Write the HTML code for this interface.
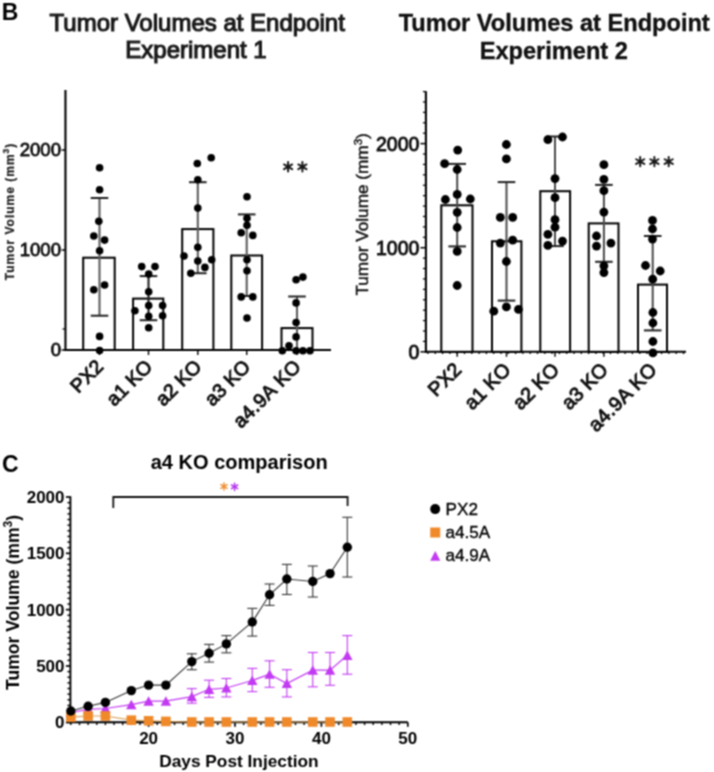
<!DOCTYPE html>
<html><head><meta charset="utf-8"><style>
html,body{margin:0;padding:0;background:#fff;}
svg{display:block;font-family:"Liberation Sans", sans-serif;}
#w{width:714px;height:772px;will-change:transform;}
</style></head><body><div id="w">
<svg width="714" height="772" viewBox="0 0 714 772">
<defs><filter id="soft" x="0" y="0" width="714" height="772" filterUnits="userSpaceOnUse" color-interpolation-filters="sRGB"><feConvolveMatrix order="3" kernelMatrix="1 2 1 2 4 2 1 2 1" divisor="16" edgeMode="duplicate"/></filter></defs>
<g filter="url(#soft)">
<rect width="714" height="772" fill="#fff"/>
<text x="1.7" y="19.9" font-size="23" font-weight="bold" text-anchor="start" fill="#000" >B</text>
<text x="197.2" y="30.9" font-size="24.0" font-weight="normal" text-anchor="middle" fill="#1a1a1a" stroke="#1a1a1a" stroke-width="1.15">Tumor Volumes at Endpoint</text>
<text x="196.0" y="58.0" font-size="24.0" font-weight="normal" text-anchor="middle" fill="#1a1a1a" stroke="#1a1a1a" stroke-width="1.15">Experiment 1</text>
<text x="554.2" y="31.3" font-size="23.6" font-weight="bold" text-anchor="middle" fill="#111" stroke="#111" stroke-width="0.35">Tumor Volumes at Endpoint</text>
<text x="553.8" y="58.9" font-size="23.6" font-weight="bold" text-anchor="middle" fill="#111" stroke="#111" stroke-width="0.35">Experiment 2</text>
<line x1="65.45" y1="90" x2="65.45" y2="351.0" stroke="#000" stroke-width="2.1"/>
<line x1="64.45" y1="350.0" x2="331" y2="350.0" stroke="#000" stroke-width="2.0"/>
<line x1="61.650000000000006" y1="350.0" x2="65.45" y2="350.0" stroke="#000" stroke-width="1.5"/>
<line x1="61.650000000000006" y1="250.0" x2="65.45" y2="250.0" stroke="#000" stroke-width="1.5"/>
<line x1="61.650000000000006" y1="150.0" x2="65.45" y2="150.0" stroke="#000" stroke-width="1.5"/>
<line x1="62.45" y1="329" x2="65.45" y2="329" stroke="#000" stroke-width="1.2"/>
<text x="61.0" y="355.9" font-size="18.6" font-weight="normal" text-anchor="end" fill="#111" stroke="#111" stroke-width="0.85">0</text>
<text x="61.0" y="255.9" font-size="18.6" font-weight="normal" text-anchor="end" fill="#111" stroke="#111" stroke-width="0.85">1000</text>
<text x="61.0" y="155.9" font-size="18.6" font-weight="normal" text-anchor="end" fill="#111" stroke="#111" stroke-width="0.85">2000</text>
<text transform="translate(14.2,280.3) rotate(-90)" font-size="12" font-weight="bold" letter-spacing="1.0" fill="#222" stroke="#222" stroke-width="0.25">Tumor Volume (mm<tspan dy="-5.5" font-size="8.5">3</tspan><tspan dy="5.5">)</tspan></text>
<rect x="83.2" y="257.7" width="31.5" height="92.30000000000001" fill="#fff" stroke="#000" stroke-width="2.0"/>
<rect x="133.1" y="298.6" width="30.200000000000017" height="51.39999999999998" fill="#fff" stroke="#000" stroke-width="2.0"/>
<rect x="182.2" y="229.1" width="31.200000000000017" height="120.9" fill="#fff" stroke="#000" stroke-width="2.0"/>
<rect x="231.3" y="255.5" width="30.80000000000001" height="94.5" fill="#fff" stroke="#000" stroke-width="2.0"/>
<rect x="281.5" y="328.1" width="31.0" height="21.899999999999977" fill="#fff" stroke="#000" stroke-width="2.0"/>
<line x1="99.5" y1="198" x2="99.5" y2="315.7" stroke="#5e5e5e" stroke-width="2.1"/>
<line x1="90.7" y1="198" x2="108.3" y2="198" stroke="#222" stroke-width="2.0"/>
<line x1="90.7" y1="315.7" x2="108.3" y2="315.7" stroke="#222" stroke-width="2.0"/>
<circle cx="99.6" cy="167.7" r="3.8" fill="#000"/>
<circle cx="99.6" cy="189.7" r="3.8" fill="#000"/>
<circle cx="98.8" cy="221.2" r="3.8" fill="#000"/>
<circle cx="93.8" cy="236" r="3.8" fill="#000"/>
<circle cx="104.6" cy="240.1" r="3.8" fill="#000"/>
<circle cx="99.6" cy="250.7" r="3.8" fill="#000"/>
<circle cx="93.8" cy="289.7" r="3.8" fill="#000"/>
<circle cx="104.6" cy="285" r="3.8" fill="#000"/>
<circle cx="99.6" cy="336.4" r="3.8" fill="#000"/>
<circle cx="99.6" cy="350.5" r="3.8" fill="#000"/>
<line x1="148.5" y1="276.1" x2="148.5" y2="320.2" stroke="#222" stroke-width="2.1"/>
<line x1="139.7" y1="276.1" x2="157.3" y2="276.1" stroke="#222" stroke-width="2.0"/>
<line x1="139.7" y1="320.2" x2="157.3" y2="320.2" stroke="#222" stroke-width="2.0"/>
<circle cx="141.7" cy="266.6" r="3.8" fill="#000"/>
<circle cx="155" cy="266.6" r="3.8" fill="#000"/>
<circle cx="148.7" cy="274.1" r="3.8" fill="#000"/>
<circle cx="148.7" cy="291.8" r="3.8" fill="#000"/>
<circle cx="134.9" cy="310.7" r="3.8" fill="#000"/>
<circle cx="148.7" cy="305.6" r="3.8" fill="#000"/>
<circle cx="162.6" cy="305.6" r="3.8" fill="#000"/>
<circle cx="148.7" cy="316.2" r="3.8" fill="#000"/>
<circle cx="162.6" cy="315.7" r="3.8" fill="#000"/>
<circle cx="148.7" cy="327.8" r="3.8" fill="#000"/>
<line x1="197.8" y1="182.2" x2="197.8" y2="273.2" stroke="#5e5e5e" stroke-width="2.1"/>
<line x1="189.0" y1="182.2" x2="206.60000000000002" y2="182.2" stroke="#222" stroke-width="2.0"/>
<line x1="189.0" y1="273.2" x2="206.60000000000002" y2="273.2" stroke="#222" stroke-width="2.0"/>
<circle cx="197.3" cy="163.5" r="3.8" fill="#000"/>
<circle cx="211.2" cy="157.7" r="3.8" fill="#000"/>
<circle cx="197.8" cy="179.7" r="3.8" fill="#000"/>
<circle cx="197.8" cy="208.1" r="3.8" fill="#000"/>
<circle cx="197.8" cy="247.2" r="3.8" fill="#000"/>
<circle cx="184" cy="256" r="3.8" fill="#000"/>
<circle cx="211.7" cy="259.8" r="3.8" fill="#000"/>
<circle cx="197.8" cy="261" r="3.8" fill="#000"/>
<circle cx="204.9" cy="267.4" r="3.8" fill="#000"/>
<circle cx="190.8" cy="273.2" r="3.8" fill="#000"/>
<line x1="246.7" y1="214.4" x2="246.7" y2="296.0" stroke="#5e5e5e" stroke-width="2.1"/>
<line x1="237.89999999999998" y1="214.4" x2="255.5" y2="214.4" stroke="#222" stroke-width="2.0"/>
<line x1="237.89999999999998" y1="296.0" x2="255.5" y2="296.0" stroke="#222" stroke-width="2.0"/>
<circle cx="247" cy="196.8" r="3.8" fill="#000"/>
<circle cx="247" cy="218.2" r="3.8" fill="#000"/>
<circle cx="247" cy="225.3" r="3.8" fill="#000"/>
<circle cx="241.2" cy="232.8" r="3.8" fill="#000"/>
<circle cx="252.8" cy="235.4" r="3.8" fill="#000"/>
<circle cx="247" cy="259.8" r="3.8" fill="#000"/>
<circle cx="247" cy="270.7" r="3.8" fill="#000"/>
<circle cx="241.2" cy="296.9" r="3.8" fill="#000"/>
<circle cx="252.8" cy="296.9" r="3.8" fill="#000"/>
<circle cx="247" cy="318" r="3.8" fill="#000"/>
<line x1="297" y1="296.5" x2="297" y2="350.0" stroke="#5e5e5e" stroke-width="2.1"/>
<line x1="288.2" y1="296.5" x2="305.8" y2="296.5" stroke="#222" stroke-width="2.0"/>
<circle cx="296.1" cy="279.7" r="3.8" fill="#000"/>
<circle cx="302.9" cy="277.1" r="3.8" fill="#000"/>
<circle cx="296.1" cy="302.9" r="3.8" fill="#000"/>
<circle cx="296.1" cy="322.5" r="3.8" fill="#000"/>
<circle cx="296.1" cy="336.9" r="3.8" fill="#000"/>
<circle cx="289" cy="345.7" r="3.8" fill="#000"/>
<circle cx="282.3" cy="350.7" r="3.8" fill="#000"/>
<circle cx="296.1" cy="350.7" r="3.8" fill="#000"/>
<circle cx="302.9" cy="350.7" r="3.8" fill="#000"/>
<circle cx="310" cy="350.7" r="3.8" fill="#000"/>
<line x1="99.5" y1="350.0" x2="99.5" y2="355.0" stroke="#000" stroke-width="1.4"/>
<line x1="148.5" y1="350.0" x2="148.5" y2="355.0" stroke="#000" stroke-width="1.4"/>
<line x1="197.8" y1="350.0" x2="197.8" y2="355.0" stroke="#000" stroke-width="1.4"/>
<line x1="246.7" y1="350.0" x2="246.7" y2="355.0" stroke="#000" stroke-width="1.4"/>
<line x1="297" y1="350.0" x2="297" y2="355.0" stroke="#000" stroke-width="1.4"/>
<text transform="translate(104.40,367.90) rotate(-45)" font-size="19.5" text-anchor="end" letter-spacing="0" fill="#111" stroke="#111" stroke-width="0.95">PX2</text>
<text transform="translate(153.40,367.90) rotate(-45)" font-size="19.5" text-anchor="end" letter-spacing="0" fill="#111" stroke="#111" stroke-width="0.95">a1 KO</text>
<text transform="translate(202.70,367.90) rotate(-45)" font-size="19.5" text-anchor="end" letter-spacing="0" fill="#111" stroke="#111" stroke-width="0.95">a2 KO</text>
<text transform="translate(251.60,367.90) rotate(-45)" font-size="19.5" text-anchor="end" letter-spacing="0" fill="#111" stroke="#111" stroke-width="0.95">a3 KO</text>
<text transform="translate(302.18,367.62) rotate(-45)" font-size="19.5" text-anchor="end" letter-spacing="0.4" fill="#111" stroke="#111" stroke-width="0.95">a4.9A KO</text>
<circle cx="288.1" cy="166.8" r="2.2" fill="#1a1a1a"/>
<line x1="288.10" y1="162.10" x2="288.10" y2="171.50" stroke="#1a1a1a" stroke-width="2.0" stroke-linecap="round"/>
<line x1="284.03" y1="164.45" x2="292.17" y2="169.15" stroke="#1a1a1a" stroke-width="2.0" stroke-linecap="round"/>
<line x1="284.03" y1="169.15" x2="292.17" y2="164.45" stroke="#1a1a1a" stroke-width="2.0" stroke-linecap="round"/>
<circle cx="302.4" cy="166.8" r="2.2" fill="#1a1a1a"/>
<line x1="302.40" y1="162.10" x2="302.40" y2="171.50" stroke="#1a1a1a" stroke-width="2.0" stroke-linecap="round"/>
<line x1="298.33" y1="164.45" x2="306.47" y2="169.15" stroke="#1a1a1a" stroke-width="2.0" stroke-linecap="round"/>
<line x1="298.33" y1="169.15" x2="306.47" y2="164.45" stroke="#1a1a1a" stroke-width="2.0" stroke-linecap="round"/>
<line x1="425.9" y1="91.2" x2="425.9" y2="352.8" stroke="#000" stroke-width="2.1"/>
<line x1="424.9" y1="351.8" x2="686" y2="351.8" stroke="#000" stroke-width="2.0"/>
<line x1="420.4" y1="351.8" x2="425.9" y2="351.8" stroke="#000" stroke-width="1.5"/>
<line x1="422.9" y1="341.39" x2="425.9" y2="341.39" stroke="#000" stroke-width="1.2"/>
<line x1="422.9" y1="330.98" x2="425.9" y2="330.98" stroke="#000" stroke-width="1.2"/>
<line x1="422.9" y1="320.57" x2="425.9" y2="320.57" stroke="#000" stroke-width="1.2"/>
<line x1="422.9" y1="310.16" x2="425.9" y2="310.16" stroke="#000" stroke-width="1.2"/>
<line x1="422.9" y1="299.75" x2="425.9" y2="299.75" stroke="#000" stroke-width="1.2"/>
<line x1="422.9" y1="289.34000000000003" x2="425.9" y2="289.34000000000003" stroke="#000" stroke-width="1.2"/>
<line x1="422.9" y1="278.93" x2="425.9" y2="278.93" stroke="#000" stroke-width="1.2"/>
<line x1="422.9" y1="268.52" x2="425.9" y2="268.52" stroke="#000" stroke-width="1.2"/>
<line x1="422.9" y1="258.11" x2="425.9" y2="258.11" stroke="#000" stroke-width="1.2"/>
<line x1="420.4" y1="247.70000000000002" x2="425.9" y2="247.70000000000002" stroke="#000" stroke-width="1.5"/>
<line x1="422.9" y1="237.29000000000002" x2="425.9" y2="237.29000000000002" stroke="#000" stroke-width="1.2"/>
<line x1="422.9" y1="226.88" x2="425.9" y2="226.88" stroke="#000" stroke-width="1.2"/>
<line x1="422.9" y1="216.47000000000003" x2="425.9" y2="216.47000000000003" stroke="#000" stroke-width="1.2"/>
<line x1="422.9" y1="206.06" x2="425.9" y2="206.06" stroke="#000" stroke-width="1.2"/>
<line x1="422.9" y1="195.65" x2="425.9" y2="195.65" stroke="#000" stroke-width="1.2"/>
<line x1="422.9" y1="185.24" x2="425.9" y2="185.24" stroke="#000" stroke-width="1.2"/>
<line x1="422.9" y1="174.83" x2="425.9" y2="174.83" stroke="#000" stroke-width="1.2"/>
<line x1="422.9" y1="164.42000000000002" x2="425.9" y2="164.42000000000002" stroke="#000" stroke-width="1.2"/>
<line x1="422.9" y1="154.01000000000002" x2="425.9" y2="154.01000000000002" stroke="#000" stroke-width="1.2"/>
<line x1="420.4" y1="143.60000000000002" x2="425.9" y2="143.60000000000002" stroke="#000" stroke-width="1.5"/>
<line x1="422.9" y1="133.19000000000003" x2="425.9" y2="133.19000000000003" stroke="#000" stroke-width="1.2"/>
<line x1="422.9" y1="122.78000000000003" x2="425.9" y2="122.78000000000003" stroke="#000" stroke-width="1.2"/>
<line x1="422.9" y1="112.37" x2="425.9" y2="112.37" stroke="#000" stroke-width="1.2"/>
<line x1="422.9" y1="101.96000000000001" x2="425.9" y2="101.96000000000001" stroke="#000" stroke-width="1.2"/>
<line x1="422.9" y1="91.55000000000001" x2="425.9" y2="91.55000000000001" stroke="#000" stroke-width="1.2"/>
<text x="419.4" y="358.8" font-size="19.5" font-weight="normal" text-anchor="end" fill="#111" stroke="#111" stroke-width="0.9">0</text>
<text x="419.4" y="254.70000000000002" font-size="19.5" font-weight="normal" text-anchor="end" fill="#111" stroke="#111" stroke-width="0.9">1000</text>
<text x="419.4" y="150.60000000000002" font-size="19.5" font-weight="normal" text-anchor="end" fill="#111" stroke="#111" stroke-width="0.9">2000</text>
<text transform="translate(368.4,295.6) rotate(-90)" font-size="17.2" fill="#111" stroke="#111" stroke-width="0.45">Tumor Volume (mm<tspan dy="-6.5" font-size="11.5">3</tspan><tspan dy="6.5">)</tspan></text>
<rect x="441.3" y="205.3" width="31.19999999999999" height="146.5" fill="#fff" stroke="#000" stroke-width="2.0"/>
<rect x="492" y="241.3" width="29.399999999999977" height="110.5" fill="#fff" stroke="#000" stroke-width="2.0"/>
<rect x="540.3" y="191.2" width="29.800000000000068" height="160.60000000000002" fill="#fff" stroke="#000" stroke-width="2.0"/>
<rect x="588.7" y="223.4" width="29.799999999999955" height="128.4" fill="#fff" stroke="#000" stroke-width="2.0"/>
<rect x="638" y="284.6" width="29" height="67.19999999999999" fill="#fff" stroke="#000" stroke-width="2.0"/>
<line x1="457.2" y1="163.9" x2="457.2" y2="246.4" stroke="#4a4a4a" stroke-width="2.0"/>
<line x1="448.4" y1="163.9" x2="466.0" y2="163.9" stroke="#222" stroke-width="2.0"/>
<line x1="448.4" y1="246.4" x2="466.0" y2="246.4" stroke="#222" stroke-width="2.0"/>
<circle cx="457.7" cy="150.1" r="4.4" fill="#000"/>
<circle cx="444.6" cy="163.7" r="4.4" fill="#000"/>
<circle cx="457.2" cy="169.5" r="4.4" fill="#000"/>
<circle cx="445.4" cy="199.5" r="4.4" fill="#000"/>
<circle cx="457.2" cy="194.4" r="4.4" fill="#000"/>
<circle cx="470.3" cy="199" r="4.4" fill="#000"/>
<circle cx="457.2" cy="212.3" r="4.4" fill="#000"/>
<circle cx="457.2" cy="227.5" r="4.4" fill="#000"/>
<circle cx="457.2" cy="251.4" r="4.4" fill="#000"/>
<circle cx="457.2" cy="285.5" r="4.4" fill="#000"/>
<line x1="506.5" y1="182.1" x2="506.5" y2="300.6" stroke="#4a4a4a" stroke-width="2.0"/>
<line x1="497.7" y1="182.1" x2="515.3" y2="182.1" stroke="#222" stroke-width="2.0"/>
<line x1="497.7" y1="300.6" x2="515.3" y2="300.6" stroke="#222" stroke-width="2.0"/>
<circle cx="506.4" cy="144.5" r="4.4" fill="#000"/>
<circle cx="506.4" cy="158.9" r="4.4" fill="#000"/>
<circle cx="500.3" cy="217.4" r="4.4" fill="#000"/>
<circle cx="512.7" cy="217.4" r="4.4" fill="#000"/>
<circle cx="500.3" cy="243.1" r="4.4" fill="#000"/>
<circle cx="512.7" cy="240.1" r="4.4" fill="#000"/>
<circle cx="506.4" cy="261.5" r="4.4" fill="#000"/>
<circle cx="493.8" cy="311.2" r="4.4" fill="#000"/>
<circle cx="506.4" cy="306.9" r="4.4" fill="#000"/>
<circle cx="518.5" cy="309.4" r="4.4" fill="#000"/>
<line x1="555" y1="136.5" x2="555" y2="246.1" stroke="#4a4a4a" stroke-width="2.0"/>
<line x1="546.2" y1="136.5" x2="563.8" y2="136.5" stroke="#222" stroke-width="2.0"/>
<line x1="546.2" y1="246.1" x2="563.8" y2="246.1" stroke="#222" stroke-width="2.0"/>
<circle cx="547.9" cy="139.7" r="4.4" fill="#000"/>
<circle cx="562.5" cy="137" r="4.4" fill="#000"/>
<circle cx="555" cy="178.6" r="4.4" fill="#000"/>
<circle cx="555" cy="197.7" r="4.4" fill="#000"/>
<circle cx="555" cy="219.7" r="4.4" fill="#000"/>
<circle cx="555" cy="227.2" r="4.4" fill="#000"/>
<circle cx="547.9" cy="234.3" r="4.4" fill="#000"/>
<circle cx="562.5" cy="241.1" r="4.4" fill="#000"/>
<circle cx="547.9" cy="245.4" r="4.4" fill="#000"/>
<line x1="603.9" y1="184.9" x2="603.9" y2="261.8" stroke="#4a4a4a" stroke-width="2.0"/>
<line x1="595.1" y1="184.9" x2="612.6999999999999" y2="184.9" stroke="#222" stroke-width="2.0"/>
<line x1="595.1" y1="261.8" x2="612.6999999999999" y2="261.8" stroke="#222" stroke-width="2.0"/>
<circle cx="603.9" cy="164.7" r="4.4" fill="#000"/>
<circle cx="603.9" cy="179.3" r="4.4" fill="#000"/>
<circle cx="603.9" cy="190.7" r="4.4" fill="#000"/>
<circle cx="603.9" cy="212.1" r="4.4" fill="#000"/>
<circle cx="596.5" cy="236" r="4.4" fill="#000"/>
<circle cx="610.9" cy="243.1" r="4.4" fill="#000"/>
<circle cx="596.5" cy="246.1" r="4.4" fill="#000"/>
<circle cx="603.9" cy="265.8" r="4.4" fill="#000"/>
<circle cx="603.9" cy="272.6" r="4.4" fill="#000"/>
<line x1="652.7" y1="236" x2="652.7" y2="330.4" stroke="#4a4a4a" stroke-width="2.0"/>
<line x1="643.9000000000001" y1="236" x2="661.5" y2="236" stroke="#222" stroke-width="2.0"/>
<line x1="643.9000000000001" y1="330.4" x2="661.5" y2="330.4" stroke="#222" stroke-width="2.0"/>
<circle cx="652.5" cy="220.4" r="4.4" fill="#000"/>
<circle cx="652.5" cy="229" r="4.4" fill="#000"/>
<circle cx="652.5" cy="239.1" r="4.4" fill="#000"/>
<circle cx="645.5" cy="265.5" r="4.4" fill="#000"/>
<circle cx="660.2" cy="271" r="4.4" fill="#000"/>
<circle cx="652.7" cy="279.2" r="4.4" fill="#000"/>
<circle cx="652.9" cy="312.5" r="4.4" fill="#000"/>
<circle cx="652.9" cy="323" r="4.4" fill="#000"/>
<circle cx="652.9" cy="341.5" r="4.4" fill="#000"/>
<circle cx="652.9" cy="352.9" r="4.4" fill="#000"/>
<line x1="428.0" y1="351.8" x2="428.0" y2="354.1" stroke="#000" stroke-width="1.3"/>
<line x1="435.3" y1="351.8" x2="435.3" y2="354.1" stroke="#000" stroke-width="1.3"/>
<line x1="442.6" y1="351.8" x2="442.6" y2="354.1" stroke="#000" stroke-width="1.3"/>
<line x1="449.90000000000003" y1="351.8" x2="449.90000000000003" y2="354.1" stroke="#000" stroke-width="1.3"/>
<line x1="457.20000000000005" y1="351.8" x2="457.20000000000005" y2="354.1" stroke="#000" stroke-width="1.3"/>
<line x1="464.50000000000006" y1="351.8" x2="464.50000000000006" y2="354.1" stroke="#000" stroke-width="1.3"/>
<line x1="471.80000000000007" y1="351.8" x2="471.80000000000007" y2="354.1" stroke="#000" stroke-width="1.3"/>
<line x1="479.1000000000001" y1="351.8" x2="479.1000000000001" y2="354.1" stroke="#000" stroke-width="1.3"/>
<line x1="486.4000000000001" y1="351.8" x2="486.4000000000001" y2="354.1" stroke="#000" stroke-width="1.3"/>
<line x1="493.7000000000001" y1="351.8" x2="493.7000000000001" y2="354.1" stroke="#000" stroke-width="1.3"/>
<line x1="501.0000000000001" y1="351.8" x2="501.0000000000001" y2="354.1" stroke="#000" stroke-width="1.3"/>
<line x1="508.3000000000001" y1="351.8" x2="508.3000000000001" y2="354.1" stroke="#000" stroke-width="1.3"/>
<line x1="515.6000000000001" y1="351.8" x2="515.6000000000001" y2="354.1" stroke="#000" stroke-width="1.3"/>
<line x1="522.9000000000001" y1="351.8" x2="522.9000000000001" y2="354.1" stroke="#000" stroke-width="1.3"/>
<line x1="530.2" y1="351.8" x2="530.2" y2="354.1" stroke="#000" stroke-width="1.3"/>
<line x1="537.5" y1="351.8" x2="537.5" y2="354.1" stroke="#000" stroke-width="1.3"/>
<line x1="544.8" y1="351.8" x2="544.8" y2="354.1" stroke="#000" stroke-width="1.3"/>
<line x1="552.0999999999999" y1="351.8" x2="552.0999999999999" y2="354.1" stroke="#000" stroke-width="1.3"/>
<line x1="559.3999999999999" y1="351.8" x2="559.3999999999999" y2="354.1" stroke="#000" stroke-width="1.3"/>
<line x1="566.6999999999998" y1="351.8" x2="566.6999999999998" y2="354.1" stroke="#000" stroke-width="1.3"/>
<line x1="573.9999999999998" y1="351.8" x2="573.9999999999998" y2="354.1" stroke="#000" stroke-width="1.3"/>
<line x1="581.2999999999997" y1="351.8" x2="581.2999999999997" y2="354.1" stroke="#000" stroke-width="1.3"/>
<line x1="588.5999999999997" y1="351.8" x2="588.5999999999997" y2="354.1" stroke="#000" stroke-width="1.3"/>
<line x1="595.8999999999996" y1="351.8" x2="595.8999999999996" y2="354.1" stroke="#000" stroke-width="1.3"/>
<line x1="603.1999999999996" y1="351.8" x2="603.1999999999996" y2="354.1" stroke="#000" stroke-width="1.3"/>
<line x1="610.4999999999995" y1="351.8" x2="610.4999999999995" y2="354.1" stroke="#000" stroke-width="1.3"/>
<line x1="617.7999999999995" y1="351.8" x2="617.7999999999995" y2="354.1" stroke="#000" stroke-width="1.3"/>
<line x1="625.0999999999995" y1="351.8" x2="625.0999999999995" y2="354.1" stroke="#000" stroke-width="1.3"/>
<line x1="632.3999999999994" y1="351.8" x2="632.3999999999994" y2="354.1" stroke="#000" stroke-width="1.3"/>
<line x1="639.6999999999994" y1="351.8" x2="639.6999999999994" y2="354.1" stroke="#000" stroke-width="1.3"/>
<line x1="646.9999999999993" y1="351.8" x2="646.9999999999993" y2="354.1" stroke="#000" stroke-width="1.3"/>
<line x1="654.2999999999993" y1="351.8" x2="654.2999999999993" y2="354.1" stroke="#000" stroke-width="1.3"/>
<line x1="661.5999999999992" y1="351.8" x2="661.5999999999992" y2="354.1" stroke="#000" stroke-width="1.3"/>
<line x1="668.8999999999992" y1="351.8" x2="668.8999999999992" y2="354.1" stroke="#000" stroke-width="1.3"/>
<line x1="676.1999999999991" y1="351.8" x2="676.1999999999991" y2="354.1" stroke="#000" stroke-width="1.3"/>
<line x1="683.4999999999991" y1="351.8" x2="683.4999999999991" y2="354.1" stroke="#000" stroke-width="1.3"/>
<line x1="457.2" y1="351.8" x2="457.2" y2="356.8" stroke="#000" stroke-width="1.4"/>
<line x1="506.5" y1="351.8" x2="506.5" y2="356.8" stroke="#000" stroke-width="1.4"/>
<line x1="555" y1="351.8" x2="555" y2="356.8" stroke="#000" stroke-width="1.4"/>
<line x1="603.9" y1="351.8" x2="603.9" y2="356.8" stroke="#000" stroke-width="1.4"/>
<line x1="652.7" y1="351.8" x2="652.7" y2="356.8" stroke="#000" stroke-width="1.4"/>
<text transform="translate(462.50,371.00) rotate(-45)" font-size="19.8" text-anchor="end" letter-spacing="0" fill="#111" stroke="#111" stroke-width="0.95">PX2</text>
<text transform="translate(511.80,371.00) rotate(-45)" font-size="19.8" text-anchor="end" letter-spacing="0" fill="#111" stroke="#111" stroke-width="0.95">a1 KO</text>
<text transform="translate(560.30,371.00) rotate(-45)" font-size="19.8" text-anchor="end" letter-spacing="0" fill="#111" stroke="#111" stroke-width="0.95">a2 KO</text>
<text transform="translate(609.20,371.00) rotate(-45)" font-size="19.8" text-anchor="end" letter-spacing="0" fill="#111" stroke="#111" stroke-width="0.95">a3 KO</text>
<text transform="translate(658.28,370.72) rotate(-45)" font-size="19.8" text-anchor="end" letter-spacing="0.4" fill="#111" stroke="#111" stroke-width="0.95">a4.9A KO</text>
<circle cx="640.2" cy="161.6" r="2.2" fill="#1a1a1a"/>
<line x1="640.20" y1="156.90" x2="640.20" y2="166.30" stroke="#1a1a1a" stroke-width="2.0" stroke-linecap="round"/>
<line x1="636.13" y1="159.25" x2="644.27" y2="163.95" stroke="#1a1a1a" stroke-width="2.0" stroke-linecap="round"/>
<line x1="636.13" y1="163.95" x2="644.27" y2="159.25" stroke="#1a1a1a" stroke-width="2.0" stroke-linecap="round"/>
<circle cx="654.4" cy="161.6" r="2.2" fill="#1a1a1a"/>
<line x1="654.40" y1="156.90" x2="654.40" y2="166.30" stroke="#1a1a1a" stroke-width="2.0" stroke-linecap="round"/>
<line x1="650.33" y1="159.25" x2="658.47" y2="163.95" stroke="#1a1a1a" stroke-width="2.0" stroke-linecap="round"/>
<line x1="650.33" y1="163.95" x2="658.47" y2="159.25" stroke="#1a1a1a" stroke-width="2.0" stroke-linecap="round"/>
<circle cx="668.7" cy="161.6" r="2.2" fill="#1a1a1a"/>
<line x1="668.70" y1="156.90" x2="668.70" y2="166.30" stroke="#1a1a1a" stroke-width="2.0" stroke-linecap="round"/>
<line x1="664.63" y1="159.25" x2="672.77" y2="163.95" stroke="#1a1a1a" stroke-width="2.0" stroke-linecap="round"/>
<line x1="664.63" y1="163.95" x2="672.77" y2="159.25" stroke="#1a1a1a" stroke-width="2.0" stroke-linecap="round"/>
<text x="2.1" y="472" font-size="23" font-weight="bold" text-anchor="start" fill="#000" >C</text>
<text x="150.7" y="469" font-size="20.05" font-weight="bold" text-anchor="start" fill="#000" >a4 KO comparison</text>
<line x1="70.4" y1="496.3" x2="70.4" y2="723.1999999999999" stroke="#000" stroke-width="1.9"/>
<line x1="66" y1="722.3" x2="407.80000000000007" y2="722.3" stroke="#000" stroke-width="1.9"/>
<line x1="65.9" y1="722.3" x2="70.4" y2="722.3" stroke="#000" stroke-width="1.7"/>
<line x1="67.4" y1="716.6674999999999" x2="70.4" y2="716.6674999999999" stroke="#000" stroke-width="1.4"/>
<line x1="67.4" y1="711.035" x2="70.4" y2="711.035" stroke="#000" stroke-width="1.4"/>
<line x1="67.4" y1="705.4024999999999" x2="70.4" y2="705.4024999999999" stroke="#000" stroke-width="1.4"/>
<line x1="67.4" y1="699.77" x2="70.4" y2="699.77" stroke="#000" stroke-width="1.4"/>
<line x1="67.4" y1="694.1374999999999" x2="70.4" y2="694.1374999999999" stroke="#000" stroke-width="1.4"/>
<line x1="67.4" y1="688.505" x2="70.4" y2="688.505" stroke="#000" stroke-width="1.4"/>
<line x1="67.4" y1="682.8725" x2="70.4" y2="682.8725" stroke="#000" stroke-width="1.4"/>
<line x1="67.4" y1="677.24" x2="70.4" y2="677.24" stroke="#000" stroke-width="1.4"/>
<line x1="67.4" y1="671.6075" x2="70.4" y2="671.6075" stroke="#000" stroke-width="1.4"/>
<line x1="65.9" y1="665.9749999999999" x2="70.4" y2="665.9749999999999" stroke="#000" stroke-width="1.7"/>
<line x1="67.4" y1="660.3425" x2="70.4" y2="660.3425" stroke="#000" stroke-width="1.4"/>
<line x1="67.4" y1="654.7099999999999" x2="70.4" y2="654.7099999999999" stroke="#000" stroke-width="1.4"/>
<line x1="67.4" y1="649.0775" x2="70.4" y2="649.0775" stroke="#000" stroke-width="1.4"/>
<line x1="67.4" y1="643.4449999999999" x2="70.4" y2="643.4449999999999" stroke="#000" stroke-width="1.4"/>
<line x1="67.4" y1="637.8125" x2="70.4" y2="637.8125" stroke="#000" stroke-width="1.4"/>
<line x1="67.4" y1="632.18" x2="70.4" y2="632.18" stroke="#000" stroke-width="1.4"/>
<line x1="67.4" y1="626.5474999999999" x2="70.4" y2="626.5474999999999" stroke="#000" stroke-width="1.4"/>
<line x1="67.4" y1="620.915" x2="70.4" y2="620.915" stroke="#000" stroke-width="1.4"/>
<line x1="67.4" y1="615.2824999999999" x2="70.4" y2="615.2824999999999" stroke="#000" stroke-width="1.4"/>
<line x1="65.9" y1="609.65" x2="70.4" y2="609.65" stroke="#000" stroke-width="1.7"/>
<line x1="67.4" y1="604.0174999999999" x2="70.4" y2="604.0174999999999" stroke="#000" stroke-width="1.4"/>
<line x1="67.4" y1="598.385" x2="70.4" y2="598.385" stroke="#000" stroke-width="1.4"/>
<line x1="67.4" y1="592.7524999999999" x2="70.4" y2="592.7524999999999" stroke="#000" stroke-width="1.4"/>
<line x1="67.4" y1="587.1199999999999" x2="70.4" y2="587.1199999999999" stroke="#000" stroke-width="1.4"/>
<line x1="67.4" y1="581.4875" x2="70.4" y2="581.4875" stroke="#000" stroke-width="1.4"/>
<line x1="67.4" y1="575.855" x2="70.4" y2="575.855" stroke="#000" stroke-width="1.4"/>
<line x1="67.4" y1="570.2225" x2="70.4" y2="570.2225" stroke="#000" stroke-width="1.4"/>
<line x1="67.4" y1="564.5899999999999" x2="70.4" y2="564.5899999999999" stroke="#000" stroke-width="1.4"/>
<line x1="67.4" y1="558.9575" x2="70.4" y2="558.9575" stroke="#000" stroke-width="1.4"/>
<line x1="65.9" y1="553.3249999999999" x2="70.4" y2="553.3249999999999" stroke="#000" stroke-width="1.7"/>
<line x1="67.4" y1="547.6925" x2="70.4" y2="547.6925" stroke="#000" stroke-width="1.4"/>
<line x1="67.4" y1="542.06" x2="70.4" y2="542.06" stroke="#000" stroke-width="1.4"/>
<line x1="67.4" y1="536.4275" x2="70.4" y2="536.4275" stroke="#000" stroke-width="1.4"/>
<line x1="67.4" y1="530.795" x2="70.4" y2="530.795" stroke="#000" stroke-width="1.4"/>
<line x1="67.4" y1="525.1624999999999" x2="70.4" y2="525.1624999999999" stroke="#000" stroke-width="1.4"/>
<line x1="67.4" y1="519.53" x2="70.4" y2="519.53" stroke="#000" stroke-width="1.4"/>
<line x1="67.4" y1="513.8974999999999" x2="70.4" y2="513.8974999999999" stroke="#000" stroke-width="1.4"/>
<line x1="67.4" y1="508.265" x2="70.4" y2="508.265" stroke="#000" stroke-width="1.4"/>
<line x1="67.4" y1="502.63249999999994" x2="70.4" y2="502.63249999999994" stroke="#000" stroke-width="1.4"/>
<line x1="65.9" y1="496.99999999999994" x2="70.4" y2="496.99999999999994" stroke="#000" stroke-width="1.7"/>
<text x="64.5" y="728.3" font-size="17" font-weight="bold" text-anchor="end" fill="#000" >0</text>
<text x="64.5" y="671.9749999999999" font-size="17" font-weight="bold" text-anchor="end" fill="#000" >500</text>
<text x="64.5" y="615.65" font-size="17" font-weight="bold" text-anchor="end" fill="#000" >1000</text>
<text x="64.5" y="559.3249999999999" font-size="17" font-weight="bold" text-anchor="end" fill="#000" >1500</text>
<text x="64.5" y="502.99999999999994" font-size="17" font-weight="bold" text-anchor="end" fill="#000" >2000</text>
<line x1="70.83999999999999" y1="722.3" x2="70.83999999999999" y2="725.0999999999999" stroke="#000" stroke-width="1.4"/>
<line x1="79.47999999999999" y1="722.3" x2="79.47999999999999" y2="725.0999999999999" stroke="#000" stroke-width="1.4"/>
<line x1="88.11999999999999" y1="722.3" x2="88.11999999999999" y2="725.0999999999999" stroke="#000" stroke-width="1.4"/>
<line x1="96.75999999999999" y1="722.3" x2="96.75999999999999" y2="725.0999999999999" stroke="#000" stroke-width="1.4"/>
<line x1="105.39999999999999" y1="722.3" x2="105.39999999999999" y2="725.0999999999999" stroke="#000" stroke-width="1.4"/>
<line x1="114.03999999999999" y1="722.3" x2="114.03999999999999" y2="725.0999999999999" stroke="#000" stroke-width="1.4"/>
<line x1="122.67999999999999" y1="722.3" x2="122.67999999999999" y2="725.0999999999999" stroke="#000" stroke-width="1.4"/>
<line x1="131.32" y1="722.3" x2="131.32" y2="725.0999999999999" stroke="#000" stroke-width="1.4"/>
<line x1="139.95999999999998" y1="722.3" x2="139.95999999999998" y2="725.0999999999999" stroke="#000" stroke-width="1.4"/>
<line x1="148.6" y1="722.3" x2="148.6" y2="726.8" stroke="#000" stroke-width="1.7"/>
<line x1="157.24" y1="722.3" x2="157.24" y2="725.0999999999999" stroke="#000" stroke-width="1.4"/>
<line x1="165.88" y1="722.3" x2="165.88" y2="725.0999999999999" stroke="#000" stroke-width="1.4"/>
<line x1="174.51999999999998" y1="722.3" x2="174.51999999999998" y2="725.0999999999999" stroke="#000" stroke-width="1.4"/>
<line x1="183.16" y1="722.3" x2="183.16" y2="725.0999999999999" stroke="#000" stroke-width="1.4"/>
<line x1="191.8" y1="722.3" x2="191.8" y2="725.0999999999999" stroke="#000" stroke-width="1.4"/>
<line x1="200.44" y1="722.3" x2="200.44" y2="725.0999999999999" stroke="#000" stroke-width="1.4"/>
<line x1="209.07999999999998" y1="722.3" x2="209.07999999999998" y2="725.0999999999999" stroke="#000" stroke-width="1.4"/>
<line x1="217.72" y1="722.3" x2="217.72" y2="725.0999999999999" stroke="#000" stroke-width="1.4"/>
<line x1="226.36" y1="722.3" x2="226.36" y2="725.0999999999999" stroke="#000" stroke-width="1.4"/>
<line x1="235.0" y1="722.3" x2="235.0" y2="726.8" stroke="#000" stroke-width="1.7"/>
<line x1="243.64" y1="722.3" x2="243.64" y2="725.0999999999999" stroke="#000" stroke-width="1.4"/>
<line x1="252.28" y1="722.3" x2="252.28" y2="725.0999999999999" stroke="#000" stroke-width="1.4"/>
<line x1="260.92" y1="722.3" x2="260.92" y2="725.0999999999999" stroke="#000" stroke-width="1.4"/>
<line x1="269.56" y1="722.3" x2="269.56" y2="725.0999999999999" stroke="#000" stroke-width="1.4"/>
<line x1="278.20000000000005" y1="722.3" x2="278.20000000000005" y2="725.0999999999999" stroke="#000" stroke-width="1.4"/>
<line x1="286.84000000000003" y1="722.3" x2="286.84000000000003" y2="725.0999999999999" stroke="#000" stroke-width="1.4"/>
<line x1="295.48" y1="722.3" x2="295.48" y2="725.0999999999999" stroke="#000" stroke-width="1.4"/>
<line x1="304.12" y1="722.3" x2="304.12" y2="725.0999999999999" stroke="#000" stroke-width="1.4"/>
<line x1="312.76" y1="722.3" x2="312.76" y2="725.0999999999999" stroke="#000" stroke-width="1.4"/>
<line x1="321.4" y1="722.3" x2="321.4" y2="726.8" stroke="#000" stroke-width="1.7"/>
<line x1="330.03999999999996" y1="722.3" x2="330.03999999999996" y2="725.0999999999999" stroke="#000" stroke-width="1.4"/>
<line x1="338.68" y1="722.3" x2="338.68" y2="725.0999999999999" stroke="#000" stroke-width="1.4"/>
<line x1="347.32000000000005" y1="722.3" x2="347.32000000000005" y2="725.0999999999999" stroke="#000" stroke-width="1.4"/>
<line x1="355.96000000000004" y1="722.3" x2="355.96000000000004" y2="725.0999999999999" stroke="#000" stroke-width="1.4"/>
<line x1="364.6" y1="722.3" x2="364.6" y2="725.0999999999999" stroke="#000" stroke-width="1.4"/>
<line x1="373.24" y1="722.3" x2="373.24" y2="725.0999999999999" stroke="#000" stroke-width="1.4"/>
<line x1="381.88" y1="722.3" x2="381.88" y2="725.0999999999999" stroke="#000" stroke-width="1.4"/>
<line x1="390.52" y1="722.3" x2="390.52" y2="725.0999999999999" stroke="#000" stroke-width="1.4"/>
<line x1="399.15999999999997" y1="722.3" x2="399.15999999999997" y2="725.0999999999999" stroke="#000" stroke-width="1.4"/>
<line x1="407.80000000000007" y1="722.3" x2="407.80000000000007" y2="726.8" stroke="#000" stroke-width="1.7"/>
<text x="148.6" y="744" font-size="17" font-weight="bold" text-anchor="middle" fill="#000" >20</text>
<text x="235.0" y="744" font-size="17" font-weight="bold" text-anchor="middle" fill="#000" >30</text>
<text x="321.4" y="744" font-size="17" font-weight="bold" text-anchor="middle" fill="#000" >40</text>
<text x="407.80000000000007" y="744" font-size="17" font-weight="bold" text-anchor="middle" fill="#000" >50</text>
<text x="238.9" y="766.6" font-size="17.3" font-weight="bold" text-anchor="middle" fill="#000" >Days Post Injection</text>
<text transform="translate(19.4,690.0) rotate(-90)" font-size="17.6" font-weight="bold" fill="#000">Tumor Volume (mm<tspan dy="-7.5" font-size="12">3</tspan><tspan dy="7.5">)</tspan></text>
<polyline points="113.3,508 113.3,497 347.6,497 347.6,506" fill="none" stroke="#111" stroke-width="1.8"/>
<line x1="224.00" y1="482.90" x2="224.00" y2="490.10" stroke="#EE8C2E" stroke-width="1.5" stroke-linecap="round"/>
<line x1="220.88" y1="484.70" x2="227.12" y2="488.30" stroke="#EE8C2E" stroke-width="1.5" stroke-linecap="round"/>
<line x1="220.88" y1="488.30" x2="227.12" y2="484.70" stroke="#EE8C2E" stroke-width="1.5" stroke-linecap="round"/>
<line x1="234.60" y1="483.20" x2="234.60" y2="490.40" stroke="#B636F0" stroke-width="1.5" stroke-linecap="round"/>
<line x1="231.48" y1="485.00" x2="237.72" y2="488.60" stroke="#B636F0" stroke-width="1.5" stroke-linecap="round"/>
<line x1="231.48" y1="488.60" x2="237.72" y2="485.00" stroke="#B636F0" stroke-width="1.5" stroke-linecap="round"/>
<line x1="191.8" y1="688.6" x2="191.8" y2="703.2" stroke="#C23AF2" stroke-width="1.1"/>
<line x1="186.8" y1="688.6" x2="196.8" y2="688.6" stroke="#C23AF2" stroke-width="1.1"/>
<line x1="186.8" y1="703.2" x2="196.8" y2="703.2" stroke="#C23AF2" stroke-width="1.1"/>
<line x1="209.07999999999998" y1="680.2" x2="209.07999999999998" y2="697.4" stroke="#C23AF2" stroke-width="1.1"/>
<line x1="204.07999999999998" y1="680.2" x2="214.07999999999998" y2="680.2" stroke="#C23AF2" stroke-width="1.1"/>
<line x1="204.07999999999998" y1="697.4" x2="214.07999999999998" y2="697.4" stroke="#C23AF2" stroke-width="1.1"/>
<line x1="226.36" y1="678.5" x2="226.36" y2="696.9" stroke="#C23AF2" stroke-width="1.1"/>
<line x1="221.36" y1="678.5" x2="231.36" y2="678.5" stroke="#C23AF2" stroke-width="1.1"/>
<line x1="221.36" y1="696.9" x2="231.36" y2="696.9" stroke="#C23AF2" stroke-width="1.1"/>
<line x1="252.28" y1="668.4" x2="252.28" y2="691.6" stroke="#C23AF2" stroke-width="1.1"/>
<line x1="247.28" y1="668.4" x2="257.28" y2="668.4" stroke="#C23AF2" stroke-width="1.1"/>
<line x1="247.28" y1="691.6" x2="257.28" y2="691.6" stroke="#C23AF2" stroke-width="1.1"/>
<line x1="269.56" y1="660.8" x2="269.56" y2="687.3" stroke="#C23AF2" stroke-width="1.1"/>
<line x1="264.56" y1="660.8" x2="274.56" y2="660.8" stroke="#C23AF2" stroke-width="1.1"/>
<line x1="264.56" y1="687.3" x2="274.56" y2="687.3" stroke="#C23AF2" stroke-width="1.1"/>
<line x1="286.84000000000003" y1="669.7" x2="286.84000000000003" y2="696.9" stroke="#C23AF2" stroke-width="1.1"/>
<line x1="281.84000000000003" y1="669.7" x2="291.84000000000003" y2="669.7" stroke="#C23AF2" stroke-width="1.1"/>
<line x1="281.84000000000003" y1="696.9" x2="291.84000000000003" y2="696.9" stroke="#C23AF2" stroke-width="1.1"/>
<line x1="312.76" y1="652.5" x2="312.76" y2="686.8" stroke="#C23AF2" stroke-width="1.1"/>
<line x1="307.76" y1="652.5" x2="317.76" y2="652.5" stroke="#C23AF2" stroke-width="1.1"/>
<line x1="307.76" y1="686.8" x2="317.76" y2="686.8" stroke="#C23AF2" stroke-width="1.1"/>
<line x1="330.03999999999996" y1="652.5" x2="330.03999999999996" y2="685.3" stroke="#C23AF2" stroke-width="1.1"/>
<line x1="325.03999999999996" y1="652.5" x2="335.03999999999996" y2="652.5" stroke="#C23AF2" stroke-width="1.1"/>
<line x1="325.03999999999996" y1="685.3" x2="335.03999999999996" y2="685.3" stroke="#C23AF2" stroke-width="1.1"/>
<line x1="347.32000000000005" y1="635.6" x2="347.32000000000005" y2="674.2" stroke="#C23AF2" stroke-width="1.1"/>
<line x1="342.32000000000005" y1="635.6" x2="352.32000000000005" y2="635.6" stroke="#C23AF2" stroke-width="1.1"/>
<line x1="342.32000000000005" y1="674.2" x2="352.32000000000005" y2="674.2" stroke="#C23AF2" stroke-width="1.1"/>
<polyline points="70.84,712.5 88.12,709.4 105.40,708.5 131.32,704.7 148.60,701.2 165.88,701.2 191.80,696.6 209.08,689.3 226.36,688 252.28,680.5 269.56,674.2 286.84,683.5 312.76,670.2 330.04,670.2 347.32,655.3" fill="none" stroke="#C23AF2" stroke-width="1.2"/>
<polygon points="65.64,717.1 76.04,717.1 70.84,707.6" fill="#C23AF2"/>
<polygon points="82.92,714.0 93.32,714.0 88.12,704.5" fill="#C23AF2"/>
<polygon points="100.20,713.1 110.60,713.1 105.40,703.6" fill="#C23AF2"/>
<polygon points="126.12,709.3000000000001 136.52,709.3000000000001 131.32,699.8000000000001" fill="#C23AF2"/>
<polygon points="143.40,705.8000000000001 153.80,705.8000000000001 148.60,696.3000000000001" fill="#C23AF2"/>
<polygon points="160.68,705.8000000000001 171.08,705.8000000000001 165.88,696.3000000000001" fill="#C23AF2"/>
<polygon points="186.60,701.2 197.00,701.2 191.80,691.7" fill="#C23AF2"/>
<polygon points="203.88,693.9 214.28,693.9 209.08,684.4" fill="#C23AF2"/>
<polygon points="221.16,692.6 231.56,692.6 226.36,683.1" fill="#C23AF2"/>
<polygon points="247.08,685.1 257.48,685.1 252.28,675.6" fill="#C23AF2"/>
<polygon points="264.36,678.8000000000001 274.76,678.8000000000001 269.56,669.3000000000001" fill="#C23AF2"/>
<polygon points="281.64,688.1 292.04,688.1 286.84,678.6" fill="#C23AF2"/>
<polygon points="307.56,674.8000000000001 317.96,674.8000000000001 312.76,665.3000000000001" fill="#C23AF2"/>
<polygon points="324.84,674.8000000000001 335.24,674.8000000000001 330.04,665.3000000000001" fill="#C23AF2"/>
<polygon points="342.12,659.9 352.52,659.9 347.32,650.4" fill="#C23AF2"/>
<polyline points="70.84,717.2 88.12,716 105.40,716 131.32,720.2 148.60,720.8 165.88,721.4 191.80,722 209.08,722 226.36,722 252.28,722 269.56,722 286.84,722 312.76,722 330.04,722 347.32,722" fill="none" stroke="#D9A35A" stroke-width="1.2"/>
<rect x="66.04" y="712.4000000000001" width="9.6" height="9.6" fill="#F0892A"/>
<rect x="83.32" y="711.2" width="9.6" height="9.6" fill="#F0892A"/>
<rect x="100.60" y="711.2" width="9.6" height="9.6" fill="#F0892A"/>
<rect x="126.52" y="715.4000000000001" width="9.6" height="9.6" fill="#F0892A"/>
<rect x="143.80" y="716.0" width="9.6" height="9.6" fill="#F0892A"/>
<rect x="161.08" y="716.6" width="9.6" height="9.6" fill="#F0892A"/>
<rect x="187.00" y="717.2" width="9.6" height="9.6" fill="#F0892A"/>
<rect x="204.28" y="717.2" width="9.6" height="9.6" fill="#F0892A"/>
<rect x="221.56" y="717.2" width="9.6" height="9.6" fill="#F0892A"/>
<rect x="247.48" y="717.2" width="9.6" height="9.6" fill="#F0892A"/>
<rect x="264.76" y="717.2" width="9.6" height="9.6" fill="#F0892A"/>
<rect x="282.04" y="717.2" width="9.6" height="9.6" fill="#F0892A"/>
<rect x="307.96" y="717.2" width="9.6" height="9.6" fill="#F0892A"/>
<rect x="325.24" y="717.2" width="9.6" height="9.6" fill="#F0892A"/>
<rect x="342.52" y="717.2" width="9.6" height="9.6" fill="#F0892A"/>
<line x1="191.8" y1="653.8" x2="191.8" y2="669.7" stroke="#333" stroke-width="1.1"/>
<line x1="186.8" y1="653.8" x2="196.8" y2="653.8" stroke="#333" stroke-width="1.1"/>
<line x1="186.8" y1="669.7" x2="196.8" y2="669.7" stroke="#333" stroke-width="1.1"/>
<line x1="209.07999999999998" y1="644.4" x2="209.07999999999998" y2="662.1" stroke="#333" stroke-width="1.1"/>
<line x1="204.07999999999998" y1="644.4" x2="214.07999999999998" y2="644.4" stroke="#333" stroke-width="1.1"/>
<line x1="204.07999999999998" y1="662.1" x2="214.07999999999998" y2="662.1" stroke="#333" stroke-width="1.1"/>
<line x1="226.36" y1="635.6" x2="226.36" y2="652.8" stroke="#333" stroke-width="1.1"/>
<line x1="221.36" y1="635.6" x2="231.36" y2="635.6" stroke="#333" stroke-width="1.1"/>
<line x1="221.36" y1="652.8" x2="231.36" y2="652.8" stroke="#333" stroke-width="1.1"/>
<line x1="252.28" y1="608.4" x2="252.28" y2="636.1" stroke="#333" stroke-width="1.1"/>
<line x1="247.28" y1="608.4" x2="257.28" y2="608.4" stroke="#333" stroke-width="1.1"/>
<line x1="247.28" y1="636.1" x2="257.28" y2="636.1" stroke="#333" stroke-width="1.1"/>
<line x1="269.56" y1="584" x2="269.56" y2="605.4" stroke="#333" stroke-width="1.1"/>
<line x1="264.56" y1="584" x2="274.56" y2="584" stroke="#333" stroke-width="1.1"/>
<line x1="264.56" y1="605.4" x2="274.56" y2="605.4" stroke="#333" stroke-width="1.1"/>
<line x1="286.84000000000003" y1="564.4" x2="286.84000000000003" y2="594.5" stroke="#333" stroke-width="1.1"/>
<line x1="281.84000000000003" y1="564.4" x2="291.84000000000003" y2="564.4" stroke="#333" stroke-width="1.1"/>
<line x1="281.84000000000003" y1="594.5" x2="291.84000000000003" y2="594.5" stroke="#333" stroke-width="1.1"/>
<line x1="312.76" y1="566" x2="312.76" y2="597" stroke="#333" stroke-width="1.1"/>
<line x1="307.76" y1="566" x2="317.76" y2="566" stroke="#333" stroke-width="1.1"/>
<line x1="307.76" y1="597" x2="317.76" y2="597" stroke="#333" stroke-width="1.1"/>
<line x1="347.32000000000005" y1="517.3" x2="347.32000000000005" y2="577" stroke="#333" stroke-width="1.1"/>
<line x1="342.32000000000005" y1="517.3" x2="352.32000000000005" y2="517.3" stroke="#333" stroke-width="1.1"/>
<line x1="342.32000000000005" y1="577" x2="352.32000000000005" y2="577" stroke="#333" stroke-width="1.1"/>
<polyline points="70.84,711 88.12,706.3 105.40,702.4 131.32,690.6 148.60,685.1 165.88,685.1 191.80,661.6 209.08,653.3 226.36,643.9 252.28,622 269.56,594.8 286.84,579 312.76,581.5 330.04,573.6 347.32,547.3" fill="none" stroke="#333" stroke-width="1.1"/>
<circle cx="70.84" cy="711" r="4.7" fill="#000"/>
<circle cx="88.12" cy="706.3" r="4.7" fill="#000"/>
<circle cx="105.40" cy="702.4" r="4.7" fill="#000"/>
<circle cx="131.32" cy="690.6" r="4.7" fill="#000"/>
<circle cx="148.60" cy="685.1" r="4.7" fill="#000"/>
<circle cx="165.88" cy="685.1" r="4.7" fill="#000"/>
<circle cx="191.80" cy="661.6" r="4.7" fill="#000"/>
<circle cx="209.08" cy="653.3" r="4.7" fill="#000"/>
<circle cx="226.36" cy="643.9" r="4.7" fill="#000"/>
<circle cx="252.28" cy="622" r="4.7" fill="#000"/>
<circle cx="269.56" cy="594.8" r="4.7" fill="#000"/>
<circle cx="286.84" cy="579" r="4.7" fill="#000"/>
<circle cx="312.76" cy="581.5" r="4.7" fill="#000"/>
<circle cx="330.04" cy="573.6" r="4.7" fill="#000"/>
<circle cx="347.32" cy="547.3" r="4.7" fill="#000"/>
<circle cx="435.2" cy="509.1" r="5" fill="#000"/>
<text x="445.6" y="515" font-size="17.1" font-weight="normal" text-anchor="start" fill="#000" stroke="#000" stroke-width="0.35">PX2</text>
<rect x="430.2" y="527.5" width="10" height="10" fill="#F0892A"/>
<text x="445.6" y="537.8" font-size="17.1" font-weight="normal" text-anchor="start" fill="#000" stroke="#000" stroke-width="0.35">a4.5A</text>
<polygon points="430.2,560.7 440.3,560.7 435.25,550.9" fill="#C23AF2"/>
<text x="445.6" y="560.8" font-size="17.1" font-weight="normal" text-anchor="start" fill="#000" stroke="#000" stroke-width="0.35">a4.9A</text>
</g>
</svg>
</div></body></html>
